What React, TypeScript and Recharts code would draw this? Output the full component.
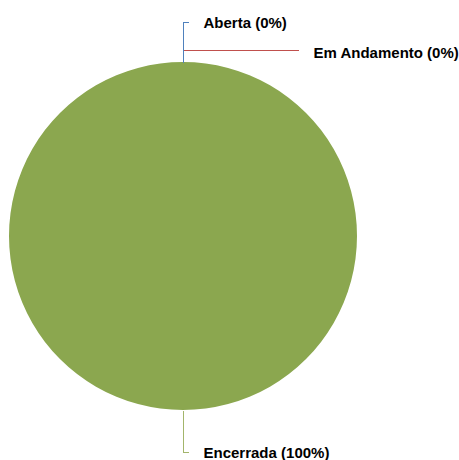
import { PieChart, Pie, Cell } from "recharts";

const statuses = ["Aberta", "Em Andamento", "Encerrada"];
const shares = [0, 0, 100];
const colors = ["#4F81BD", "#C0504D", "#8BA74F"];
const lineColors = ["#4F81BD", "#C0504D", "#A3B56B"];

const data = statuses.map((name, i) => ({ name, value: shares[i] }));

const RAD = Math.PI / 180;

function renderLabel(props: any) {
  const { cx, cy, midAngle, outerRadius, index } = props;
  const x0 = Math.round(cx + outerRadius * Math.cos(-midAngle * RAD)) + 0.5;
  const y0 = Math.round(cy + outerRadius * Math.sin(-midAngle * RAD)) + 0.5;
  const name = statuses[index];
  const pct = `${name} (${shares[index]}%)`;
  let d = "";
  let tx = 0;
  let ty = 0;
  if (index === 0) {
    d = `M${x0},${y0} V${y0 - 40} H${x0 + 5}`;
    tx = x0 + 20;
    ty = y0 - 40;
  } else if (index === 1) {
    d = `M${x0},${y0 - 12} H${x0 + 115}`;
    tx = x0 + 130;
    ty = y0 - 10;
  } else {
    d = `M${x0},${y0} V${y0 + 42} H${x0 + 5}`;
    tx = x0 + 20;
    ty = y0 + 42;
  }
  return (
    <g key={`lbl-${index}`}>
      <path d={d} stroke={lineColors[index]} strokeWidth={1} fill="none" shapeRendering="crispEdges" />
      <text
        x={tx}
        y={ty}
        fill="#000"
        fontSize={15}
        fontWeight="bold"
        fontFamily="'Liberation Sans', Arial, sans-serif"
        dominantBaseline="central"
        textAnchor="start"
      >
        {pct}
      </text>
    </g>
  );
}

export default function App() {
  return (
    <div style={{ width: 459, height: 460, background: "#fff" }}>
      <style>{`body{margin:0}`}</style>
      <PieChart width={459} height={460} margin={{ top: 0, right: 0, bottom: 0, left: 0 }}>
        <Pie
          data={data}
          dataKey="value"
          nameKey="name"
          cx={183}
          cy={236}
          outerRadius={174}
          startAngle={90}
          endAngle={-270}
          stroke="none"
          label={renderLabel}
          labelLine={false}
          isAnimationActive={false}
        >
          {data.map((d, i) => (
            <Cell key={d.name} fill={colors[i]} />
          ))}
        </Pie>
      </PieChart>
    </div>
  );
}
